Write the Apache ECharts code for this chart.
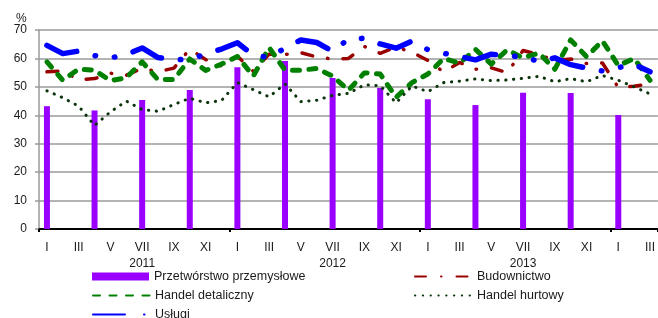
<!DOCTYPE html>
<html>
<head>
<meta charset="utf-8">
<script src="https://cdn.jsdelivr.net/npm/echarts@6/dist/echarts.min.js"></script>
<style>
html,body{margin:0;padding:0;background:#fff;}
#chart{width:658px;height:318px;}
</style>
</head>
<body>
<div id="chart"></div>
<script>
// ---- data ----
const categories = ['I','II','III','IV','V','VI','VII','VIII','IX','X','XI','XII',
                    'I','II','III','IV','V','VI','VII','VIII','IX','X','XI','XII',
                    'I','II','III','IV','V','VI','VII','VIII','IX','X','XI','XII',
                    'I','II','III'];
const yearLabels = ['2011','2012','2013'];
const yTicks = [0,10,20,30,40,50,60,70];

const przetworstwo = [43.2,null,null,41.7,null,null,45.4,null,null,48.9,null,null,
                      56.9,null,null,59.1,null,null,53.1,null,null,49.6,null,null,
                      45.6,null,null,43.6,null,null,47.9,null,null,47.8,null,null,
                      40.1,null,null];
const budownictwo = [55.3,55.6,52.5,52.9,54.8,54.1,56.5,55.3,56.6,63.3,59.6,57.3,
                     60.8,55.5,61.5,61.4,62.0,60.5,59.8,60.0,64.2,61.8,64.0,62.2,
                     59.3,55.2,58.6,56.2,56.7,55.0,62.8,61.3,59.3,59.8,58.2,58.4,
                     49.8,50.2,51.0];
const detaliczny = [58.8,52.3,56.3,55.8,52.2,53.2,58.8,52.5,52.6,59.8,55.8,58.0,
                    60.7,53.8,63.8,55.9,55.8,56.5,53.8,48.8,54.9,54.5,46.3,51.5,
                    54.5,60.0,58.3,63.2,58.0,63.0,60.2,61.9,56.2,66.5,60.6,66.2,
                    57.5,60.0,52.3];
const hurtowy = [48.6,46.2,43.2,36.4,41.2,45.0,42.0,41.4,43.8,46.0,44.4,45.2,
                 51.5,49.0,46.5,51.0,44.8,45.3,47.0,47.7,50.7,50.4,44.4,50.3,
                 48.3,51.5,52.0,52.8,52.2,52.4,53.0,53.7,51.8,52.9,51.8,54.0,
                 52.3,50.0,47.5];
const uslugi = [64.6,61.7,62.6,61.0,60.2,61.3,63.7,60.3,59.5,59.7,61.5,63.3,
                65.5,61.2,60.3,63.6,66.5,65.6,62.5,66.8,67.1,65.1,63.6,66.1,
                63.1,61.8,60.7,59.5,61.5,60.9,60.6,58.9,60.2,57.8,56.6,55.6,
                56.8,57.9,55.3];
const seriesNames = ['Przetwórstwo przemysłowe','Budownictwo','Handel detaliczny','Handel hurtowy','Usługi'];

// ---- chart ----
const font = 'Liberation Sans';
const chart = echarts.init(document.getElementById('chart'), null, {renderer:'canvas'});
const legendBase = {
  orient:'horizontal', padding:0, itemWidth:57, itemHeight:8,
  textStyle:{fontFamily:font, fontSize:12.5, color:'#1a1a1a'},
  selectedMode:false
};
function lg(name, left, top, extra){
  return Object.assign({}, legendBase, {left:left, top:top,
    data:[Object.assign({name:name}, extra||{})]});
}
const option = {
  animation:false,
  backgroundColor:'#ffffff',
  title:{text:'%', left:11, top:8, textStyle:{fontFamily:font, fontSize:12, fontWeight:'normal', color:'#1a1a1a'}},
  grid:{left:39, top:30, width:621, height:199},
  legend:[
    lg(seriesNames[0], 92, 270, {icon:'rect'}),
    lg(seriesNames[2], 92, 289, {itemStyle:{opacity:0}}),
    lg(seriesNames[4], 92, 308, {itemStyle:{opacity:0}}),
    lg(seriesNames[1], 414, 270, {itemStyle:{opacity:0}}),
    lg(seriesNames[3], 414, 289, {itemStyle:{opacity:0}})
  ],
  xAxis:{
    type:'category', data:categories, boundaryGap:true,
    axisLine:{show:true, lineStyle:{color:'#000', width:2}},
    axisTick:{show:true, length:3, lineStyle:{color:'#000', width:2},
      interval:function(i){ return i % 12 === 0; }},
    axisLabel:{interval:0, margin:11, fontFamily:font, fontSize:12, color:'#1a1a1a', lineHeight:16,
      formatter:function(v, i){
        if (i % 2 !== 0) return '';
        if (i % 12 === 6) return v + '\n' + yearLabels[Math.floor(i/12)];
        return v;
      }},
    splitLine:{show:false}
  },
  yAxis:{
    type:'value', min:yTicks[0], max:yTicks[yTicks.length-1], interval:10,
    axisLine:{show:true, lineStyle:{color:'#9a9a9a', width:1.5}},
    axisTick:{show:true, length:4, lineStyle:{color:'#9a9a9a', width:1.5}},
    axisLabel:{margin:12, fontFamily:font, fontSize:12, color:'#1a1a1a'},
    splitLine:{show:true, lineStyle:{color:'#9a9a9a', width:1.5}}
  },
  series:[
    {name:seriesNames[0], type:'bar', data:przetworstwo, barWidth:6,
     itemStyle:{color:'#9900ff'}},
    {name:seriesNames[1], type:'line', data:budownictwo, symbol:'none', smooth:false,
     itemStyle:{color:'#990000'},
     lineStyle:{color:'#990000', width:3.5, type:[11,15,0.5,15], cap:'round', join:'round'}},
    {name:seriesNames[2], type:'line', data:detaliczny, symbol:'none', smooth:false,
     itemStyle:{color:'#008000'},
     lineStyle:{color:'#008000', width:5, type:[7,9.5], cap:'round', join:'round'}},
    {name:seriesNames[3], type:'line', data:hurtowy, symbol:'none', smooth:false,
     itemStyle:{color:'#0b330b'},
     lineStyle:{color:'#0b330b', width:3, type:[0.3,7.5], cap:'round', join:'round'}},
    {name:seriesNames[4], type:'line', data:uslugi, symbol:'none', smooth:false,
     itemStyle:{color:'#0000ff'},
     lineStyle:{color:'#0000ff', width:5.5, type:[32,19,0.5,19,0.5,19], cap:'round', join:'round'}}
  ]
};
chart.setOption(option);
</script>
</body>
</html>
